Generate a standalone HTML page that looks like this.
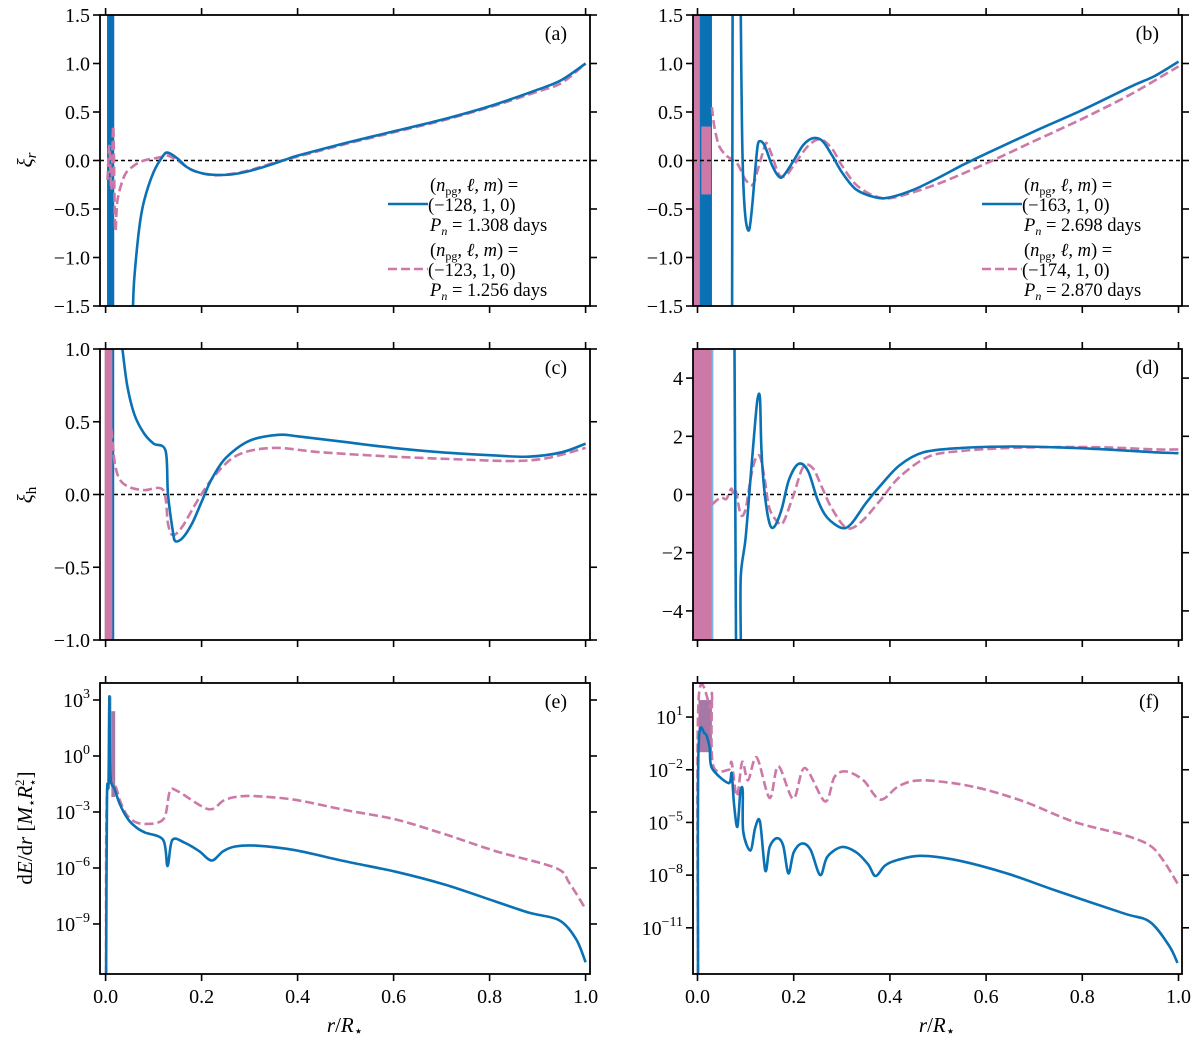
<!DOCTYPE html>
<html><head><meta charset="utf-8">
<style>
html,body{margin:0;padding:0;background:#fff;}
svg{display:block;font-family:"Liberation Serif",serif;}
</style></head>
<body>
<svg id="fig" width="1200" height="1050" viewBox="0 0 1200 1050"></svg>
<script>
const BLUE="#0a72b4", PINK="#cc79a7", PURPLE="#a678a6";
// ---- data arrays ----
const xTicks=[0,0.2,0.4,0.6,0.8,1.0];
const xTickLabels=["0.0","0.2","0.4","0.6","0.8","1.0"];
// panel (a) xi_r
const aBlue=[[0.057,-1.5],[0.06,-1.2],[0.07,-0.7],[0.08,-0.42],[0.1,-0.12],[0.12,0.05],[0.13,0.08],[0.15,0.02],[0.17,-0.07],[0.2,-0.13],[0.24,-0.15],[0.28,-0.13],[0.32,-0.08],[0.37,0],[0.4,0.05],[0.5,0.18],[0.6,0.3],[0.7,0.42],[0.8,0.56],[0.9,0.73],[0.95,0.83],[1.0,1.0]];
const aPink=[[0.004,-0.2],[0.008,0.15],[0.012,-0.3],[0.016,0.35],[0.02,-0.7],[0.025,-0.4],[0.04,-0.15],[0.06,-0.05],[0.08,0],[0.1,0.02],[0.12,0.04],[0.13,0.05],[0.15,0],[0.18,-0.1],[0.22,-0.15],[0.26,-0.14],[0.3,-0.1],[0.36,-0.01],[0.4,0.04],[0.5,0.17],[0.6,0.29],[0.7,0.41],[0.8,0.55],[0.9,0.71],[0.95,0.8],[1,1.0]];
const aBandBlue=[0.003,0.018,-1.5,1.5];
// panel (b)
const bBlueSpike=[[0.072,-1.5],[0.073,1.5]];
const bBlue=[[0.09,1.5],[0.092,0.5],[0.095,-0.2],[0.1,-0.6],[0.107,-0.72],[0.113,-0.5],[0.12,-0.1],[0.125,0.15],[0.13,0.2],[0.14,0.15],[0.155,-0.05],[0.17,-0.17],[0.18,-0.15],[0.2,0],[0.22,0.16],[0.24,0.23],[0.26,0.2],[0.28,0.05],[0.3,-0.12],[0.33,-0.3],[0.37,-0.38],[0.4,-0.38],[0.45,-0.3],[0.5,-0.18],[0.55,-0.05],[0.6,0.07],[0.7,0.3],[0.8,0.52],[0.9,0.76],[0.95,0.87],[1,1.02]];
const bPink=[[0.03,0.55],[0.035,0.35],[0.045,0.15],[0.06,0.05],[0.075,0],[0.085,-0.05],[0.1,-0.2],[0.115,-0.25],[0.125,-0.1],[0.14,0.15],[0.145,0.17],[0.155,0.05],[0.17,-0.15],[0.185,-0.15],[0.2,-0.05],[0.23,0.15],[0.255,0.22],[0.28,0.12],[0.3,-0.05],[0.33,-0.25],[0.37,-0.37],[0.41,-0.38],[0.5,-0.24],[0.6,-0.03],[0.7,0.2],[0.8,0.43],[0.9,0.68],[1,0.97]];
const bBandPink=[-0.008,0.03,-1.5,1.5];
const bBandBlue=[0.005,0.03,-1.5,1.5];
// panel (c) xi_h
const cBlue=[[0.035,1.0],[0.045,0.75],[0.06,0.55],[0.08,0.42],[0.1,0.35],[0.125,0.3],[0.13,0],[0.14,-0.25],[0.145,-0.32],[0.16,-0.3],[0.18,-0.2],[0.2,-0.05],[0.22,0.1],[0.25,0.25],[0.3,0.37],[0.36,0.41],[0.4,0.4],[0.5,0.36],[0.6,0.32],[0.7,0.29],[0.8,0.27],[0.88,0.26],[0.95,0.29],[1,0.35]];
const cPink=[[0.012,0.45],[0.015,0.35],[0.02,0.2],[0.03,0.1],[0.05,0.05],[0.08,0.03],[0.12,0.03],[0.13,-0.2],[0.14,-0.28],[0.16,-0.22],[0.19,-0.05],[0.22,0.1],[0.26,0.24],[0.3,0.3],[0.36,0.32],[0.45,0.29],[0.6,0.26],[0.75,0.24],[0.85,0.23],[0.92,0.25],[1,0.32]];
const cBandPink=[-0.002,0.015,-1,1];
// panel (d)
const dBlueSpike=[[0.077,5],[0.08,-5]];
const dBlue=[[0.09,-5],[0.09,-2.8],[0.1,-1.5],[0.11,0.5],[0.12,2.5],[0.125,3.3],[0.13,3.3],[0.133,1.5],[0.14,0],[0.15,-1],[0.16,-1.1],[0.175,-0.5],[0.19,0.5],[0.21,1.05],[0.23,0.8],[0.25,-0.2],[0.27,-0.8],[0.3,-1.15],[0.32,-1.0],[0.35,-0.3],[0.38,0.3],[0.42,1.0],[0.47,1.45],[0.55,1.6],[0.65,1.65],[0.75,1.62],[0.85,1.55],[0.95,1.45],[1,1.42]];
const dPink=[[0.03,-0.35],[0.04,-0.2],[0.05,-0.1],[0.06,-0.15],[0.07,0.2],[0.075,0],[0.08,0.1],[0.09,-0.7],[0.1,-0.5],[0.11,0.5],[0.12,1.2],[0.13,1.3],[0.14,0.5],[0.15,-0.5],[0.17,-1.0],[0.18,-0.9],[0.2,0],[0.22,0.95],[0.24,0.9],[0.26,0.2],[0.28,-0.5],[0.31,-1.15],[0.34,-0.95],[0.38,-0.2],[0.42,0.6],[0.48,1.3],[0.55,1.5],[0.65,1.6],[0.75,1.63],[0.85,1.62],[0.95,1.55],[1,1.55]];
const dBandPink=[-0.008,0.03,-5,5];
// panel (e) log10 dE/dr
const eBlue=[[0.001,-11.7],[0.003,-2.2],[0.006,-1.5],[0.008,3.2],[0.01,-1.0],[0.0194,-1.8],[0.03,-2.6],[0.047,-3.4],[0.065,-3.85],[0.082,-4.1],[0.12,-4.5],[0.129,-5.9],[0.139,-4.5],[0.165,-4.65],[0.195,-5.1],[0.221,-5.6],[0.245,-5.1],[0.27,-4.85],[0.312,-4.8],[0.395,-5.05],[0.5,-5.65],[0.604,-6.2],[0.708,-6.9],[0.813,-7.8],[0.883,-8.4],[0.945,-8.8],[0.98,-9.8],[1.0,-11.05]];
const ePink=[[0.001,-11.7],[0.003,-2.0],[0.0194,-1.6],[0.03,-2.4],[0.047,-3.25],[0.075,-3.63],[0.12,-3.4],[0.134,-1.9],[0.151,-1.9],[0.214,-2.85],[0.245,-2.4],[0.27,-2.2],[0.31,-2.15],[0.395,-2.35],[0.5,-2.9],[0.604,-3.4],[0.708,-4.2],[0.813,-5.1],[0.938,-6.0],[0.966,-6.8],[1.0,-8.2]];
const eBand=[[0.005,0.012,3.2,-1.5],[0.012,0.02,2.4,-2.2]];
// panel (f)
const fBlue=[[0.001,-13.6],[0.002,-0.88],[0.015,0.07],[0.025,-0.7],[0.03,-1.9],[0.0645,-2.76],[0.071,-2.2],[0.076,-4.0],[0.083,-5.25],[0.089,-3.3],[0.094,-3.2],[0.095,-5.5],[0.11,-6.6],[0.12,-5.3],[0.13,-4.96],[0.141,-7.75],[0.15,-6.4],[0.165,-5.9],[0.178,-6.3],[0.189,-7.9],[0.2,-6.7],[0.217,-6.2],[0.235,-6.55],[0.255,-8.0],[0.27,-6.95],[0.3,-6.4],[0.33,-6.7],[0.355,-7.4],[0.37,-8.05],[0.39,-7.45],[0.414,-7.15],[0.463,-6.9],[0.539,-7.15],[0.643,-7.9],[0.747,-8.9],[0.885,-10.17],[0.94,-10.65],[0.98,-12.0],[0.998,-13.0]];
const fPink=[[0.001,-13.6],[0.002,1.9],[0.028,1.5],[0.03,2.25],[0.032,-1.7],[0.0645,-2.0],[0.071,-1.6],[0.082,-3.5],[0.093,-1.55],[0.105,-2.6],[0.123,-1.3],[0.15,-3.6],[0.168,-1.8],[0.199,-3.65],[0.223,-1.9],[0.265,-3.8],[0.285,-2.4],[0.31,-2.1],[0.345,-2.6],[0.38,-3.7],[0.42,-2.9],[0.47,-2.6],[0.574,-2.97],[0.678,-3.8],[0.782,-4.96],[0.885,-5.7],[0.94,-6.3],[0.968,-7.15],[0.998,-8.47]];
const fBand=[[0.002,0.03,1.97,-1.0]];

const aTicks=[-1.5,-1,-0.5,0,0.5,1,1.5], aLabels=["−1.5","−1.0","−0.5","0.0","0.5","1.0","1.5"];
const cTicks=[-1,-0.5,0,0.5,1], cLabels=["−1.0","−0.5","0.0","0.5","1.0"];
const dTicks=[-4,-2,0,2,4], dLabels=["−4","−2","0","2","4"];
const eTicks=[3,0,-3,-6,-9], eExps=["3","0","−3","−6","−9"];
const fTicks=[1,-2,-5,-8,-11], fExps=["1","−2","−5","−8","−11"];

const NS="http://www.w3.org/2000/svg";
const svg=document.getElementById('fig');
function mk(tag,attrs,parent){const e=document.createElementNS(NS,tag);for(const k in attrs)e.setAttribute(k,attrs[k]);(parent||svg).appendChild(e);return e;}

const COLS={L:{bx0:100,bx1:590,x0:105.6,x1:585.6},R:{bx0:693,bx1:1182,x0:697.5,x1:1178.5}};
const ROWS=[[15,306],[349,640],[683,974]];

function panel(id,col,row,ymin,ymax){
  const c=COLS[col],r=ROWS[row];
  const g=mk('g',{});
  
  
  const sx=v=>c.x0+(c.x1-c.x0)*v;
  const sy=v=>r[1]-(v-ymin)/(ymax-ymin)*(r[1]-r[0]);
  const clipId='clip-'+id;
  const cp=mk('clipPath',{id:clipId},g);
  mk('rect',{x:c.bx0,y:r[0],width:c.bx1-c.bx0,height:r[1]-r[0]},cp);
  const plot=mk('g',{'clip-path':'url(#'+clipId+')'},g);
  
  
  return {g,plot,sx,sy,c,r};
}
function smoothPath(p){
  if(p.length<3)return p.map((q,i)=>(i?'L':'M')+q[0].toFixed(1)+','+q[1].toFixed(1)).join('');
  let d='M'+p[0][0].toFixed(1)+','+p[0][1].toFixed(1);
  for(let i=0;i<p.length-1;i++){
    const p0=p[Math.max(0,i-1)],p1=p[i],p2=p[i+1],p3=p[Math.min(p.length-1,i+2)];
    const t=0.16;
    const c1=[p1[0]+(p2[0]-p0[0])*t,p1[1]+(p2[1]-p0[1])*t];
    const c2=[p2[0]-(p3[0]-p1[0])*t,p2[1]-(p3[1]-p1[1])*t];
    d+='C'+c1[0].toFixed(1)+','+c1[1].toFixed(1)+' '+c2[0].toFixed(1)+','+c2[1].toFixed(1)+' '+p2[0].toFixed(1)+','+p2[1].toFixed(1);
  }
  return d;
}
function line(P,pts,color,dash,name){
  const sp=pts.map(p=>[P.sx(p[0]),P.sy(p[1])]);
  const e=mk('path',{d:smoothPath(sp),fill:'none',stroke:color,'stroke-width':2.6,'stroke-linejoin':'round'},P.plot);
  if(dash)e.setAttribute('stroke-dasharray',dash);
  
  
}
function band(P,b,color,name){
  const x=P.sx(b[0]),x2=P.sx(b[1]);const y1=P.sy(Math.max(b[2],b[3])),y2=P.sy(Math.min(b[2],b[3]));
  const e=mk('rect',{x:x,y:y1,width:x2-x,height:y2-y1,fill:color},P.plot);
  
  
}
function zero(P){
  const e=mk('line',{x1:P.c.bx0,x2:P.c.bx1,y1:P.sy(0),y2:P.sy(0),stroke:'#000','stroke-width':1.6,'stroke-dasharray':'4,3'},P.plot);
  
  
}
function axes(P,yt,ylab,isLog,showX,letter){
  const c=P.c,r=P.r,g=P.g;
  const fr=mk('rect',{x:c.bx0,y:r[0],width:c.bx1-c.bx0,height:r[1]-r[0],fill:'none',stroke:'#000','stroke-width':1.8},g);
  
  
  xTicks.forEach((v,i)=>{
    const x=P.sx(v);
    mk('line',{x1:x,x2:x,y1:r[1],y2:r[1]+7,stroke:'#000','stroke-width':1.6},g);
    mk('line',{x1:x,x2:x,y1:r[0],y2:r[0]-7,stroke:'#000','stroke-width':1.6},g);
    if(showX){const t=mk('text',{x:x,y:r[1]+29,'text-anchor':'middle','font-size':20},g);t.textContent=xTickLabels[i];
      
      }
  });
  yt.forEach((v,i)=>{
    const y=P.sy(v);
    mk('line',{x1:c.bx0,x2:c.bx0-7,y1:y,y2:y,stroke:'#000','stroke-width':1.6},g);
    mk('line',{x1:c.bx1,x2:c.bx1+7,y1:y,y2:y,stroke:'#000','stroke-width':1.6},g);
    const t=mk('text',{x:c.bx0-10,y:y+7,'text-anchor':'end','font-size':20},g);
    if(isLog){t.textContent='10';const s=mk('tspan',{'font-size':14,dy:-9},t);s.textContent=ylab[i];}
    else t.textContent=ylab[i];
    
    
  });
  const L=mk('text',{x:c.bx1-23,y:r[0]+25,'text-anchor':'end','font-size':20},g);
  L.textContent='('+letter+')';
  
  
}
function legend(x,y,vals){
  const g=mk('g',{});
  
  
  vals.forEach((v,k)=>{
    const oy=y+k*65;
    const ln=mk('line',{x1:x,x2:x+40,y1:oy+19,y2:oy+19,stroke:k?PINK:BLUE,'stroke-width':2.6},g);
    if(k)ln.setAttribute('stroke-dasharray','9,4');
    
    
    const t1=mk('text',{x:x+42,y:oy+6,'font-size':18.5},g);
    t1.innerHTML='(<tspan font-style="italic">n</tspan><tspan font-size="12" dy="4">pg</tspan><tspan dy="-4">, </tspan><tspan font-style="italic">ℓ</tspan>, <tspan font-style="italic">m</tspan>) =';
    const t2=mk('text',{x:x+40,y:oy+26,'font-size':18.5},g);t2.textContent=v[0];
    const t3=mk('text',{x:x+42,y:oy+46,'font-size':18.5},g);
    t3.innerHTML='<tspan font-style="italic">P</tspan><tspan font-size="12" dy="4" font-style="italic">n</tspan><tspan dy="-4"> = '+v[1]+' days</tspan>';
    [t1,t2,t3].forEach(t=>{});
  });
}

// (a)
let P=panel('a','L',0,-1.5,1.5);
zero(P);band(P,aBandBlue,BLUE,'blue-oscillation-band');
line(P,aPink,PINK,'9,4','series-n123');line(P,aBlue,BLUE,null,'series-n128');
axes(P,aTicks,aLabels,false,false,'a');
legend(388,185,[["(−128, 1, 0)","1.308"],["(−123, 1, 0)","1.256"]]);
// (b)
P=panel('b','R',0,-1.5,1.5);
band(P,bBandPink,PINK,'pink-oscillation-band');band(P,bBandBlue,BLUE,'blue-oscillation-band');
band(P,[0.008,0.028,-0.35,0.35],PINK,'pink-band-core');
zero(P);
line(P,bPink,PINK,'9,4','series-n174');line(P,bBlueSpike,BLUE,null,'series-n163-spike');line(P,bBlue,BLUE,null,'series-n163');
axes(P,aTicks,aLabels,false,false,'b');
legend(982,185,[["(−163, 1, 0)","2.698"],["(−174, 1, 0)","2.870"]]);
// (c)
P=panel('c','L',1,-1,1);
zero(P);band(P,cBandPink,PINK,'pink-oscillation-band');
band(P,[0.014,0.018,-1,1],BLUE,'blue-oscillation-band');
line(P,cPink,PINK,'9,4','series-n123');line(P,cBlue,BLUE,null,'series-n128');
axes(P,cTicks,cLabels,false,false,'c');
// (d)
P=panel('d','R',1,-5,5);
zero(P);band(P,dBandPink,PINK,'pink-oscillation-band');
band(P,[0.03,0.033,-5,5],'#7bb8df','blue-band-edge');
line(P,dPink,PINK,'9,4','series-n174');line(P,dBlueSpike,BLUE,null,'series-n163-spike');line(P,dBlue,BLUE,null,'series-n163');
axes(P,dTicks,dLabels,false,false,'d');
// (e)
P=panel('e','L',2,-11.68,3.91);
eBand.forEach(b=>band(P,b,PURPLE,'overlap-band'));
line(P,ePink,PINK,'9,4','series-n123');line(P,eBlue,BLUE,null,'series-n128');
axes(P,eTicks,eExps,true,true,'e');
// (f)
P=panel('f','R',2,-13.63,2.94);
fBand.forEach(b=>band(P,b,PURPLE,'overlap-band'));
line(P,fPink,PINK,'9,4','series-n174');line(P,fBlue,BLUE,null,'series-n163');
axes(P,fTicks,fExps,true,true,'f');

// axis titles
function ytitle(x,y,html,name){const t=mk('text',{x:0,y:0,'font-size':21,'text-anchor':'middle',transform:'translate('+x+','+y+') rotate(-90)'});t.innerHTML=html;
  
  }
ytitle(32,160,'<tspan font-style="italic">ξ</tspan><tspan font-size="15" dy="4" font-style="italic">r</tspan>','y-axis-title-xi-r');
ytitle(32,495,'<tspan font-style="italic">ξ</tspan><tspan font-size="15" dy="4">h</tspan>','y-axis-title-xi-h');
ytitle(32,828,'d<tspan font-style="italic">E</tspan>/d<tspan font-style="italic">r</tspan> [<tspan font-style="italic">M</tspan><tspan font-size="13" dy="4">⋆</tspan><tspan dy="-4" font-style="italic">R</tspan><tspan font-size="13" dy="-8">2</tspan><tspan font-size="13" dx="-7" dy="13">⋆</tspan><tspan dy="-5">]</tspan>','y-axis-title-dEdr');
[[345,'x-axis-title-left'],[937,'x-axis-title-right']].forEach(a=>{
  const t=mk('text',{x:a[0],y:1032,'font-size':21,'text-anchor':'middle'});
  t.innerHTML='<tspan font-style="italic">r</tspan>/<tspan font-style="italic">R</tspan><tspan font-size="15" dy="4">⋆</tspan>';
  
  
});
</script>
</body></html>
